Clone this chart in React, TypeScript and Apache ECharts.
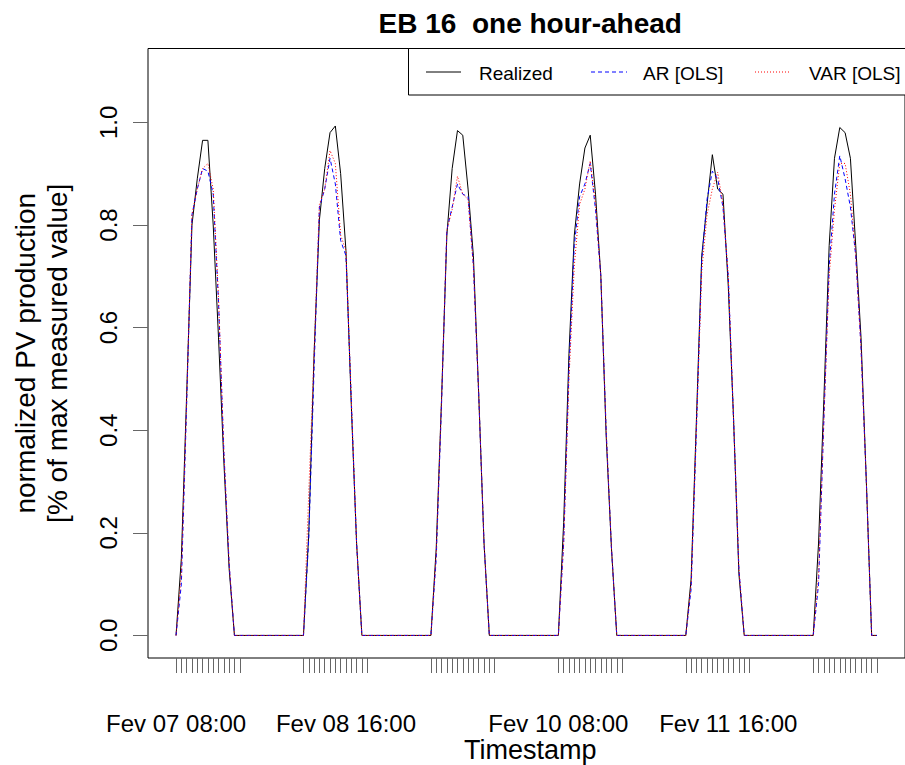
import React, { useEffect, useRef } from "react";
import * as echarts from "echarts";

// Hourly samples (08:00 .. 20:00) for each day of February shown
const DAYS = [7, 8, 9, 10, 11, 12];
const HOURS = [8, 9, 10, 11, 12, 13, 14, 15, 16, 17, 18, 19, 20];

// Normalized PV production, one row per day
const realized = [
  0, 0.15, 0.47, 0.8, 0.89, 0.965, 0.965, 0.8, 0.58, 0.34, 0.13, 0, 0,
  0, 0.2, 0.55, 0.81, 0.91, 0.98, 0.993, 0.9, 0.75, 0.45, 0.18, 0, 0,
  0, 0.17, 0.46, 0.78, 0.91, 0.984, 0.975, 0.87, 0.74, 0.47, 0.18, 0, 0,
  0, 0.22, 0.55, 0.78, 0.88, 0.95, 0.975, 0.86, 0.7, 0.39, 0.17, 0, 0,
  0, 0.11, 0.42, 0.74, 0.84, 0.937, 0.87, 0.86, 0.68, 0.42, 0.12, 0, 0,
  0, 0.18, 0.46, 0.76, 0.93, 0.99, 0.98, 0.93, 0.76, 0.58, 0.3, 0, 0,
];

const arOls = [
  0, 0.1, 0.45, 0.82, 0.87, 0.91, 0.905, 0.86, 0.65, 0.36, 0.14, 0, 0,
  0, 0.19, 0.52, 0.835, 0.87, 0.93, 0.88, 0.77, 0.74, 0.46, 0.18, 0, 0,
  0, 0.15, 0.45, 0.79, 0.835, 0.88, 0.86, 0.855, 0.72, 0.47, 0.18, 0, 0,
  0, 0.18, 0.52, 0.76, 0.855, 0.88, 0.92, 0.83, 0.7, 0.4, 0.17, 0, 0,
  0, 0.09, 0.4, 0.73, 0.85, 0.905, 0.89, 0.835, 0.7, 0.42, 0.13, 0, 0,
  0, 0.1, 0.42, 0.72, 0.86, 0.935, 0.89, 0.835, 0.74, 0.56, 0.3, 0, 0,
];

const varOls = [
  0, 0.12, 0.46, 0.82, 0.87, 0.91, 0.92, 0.87, 0.66, 0.36, 0.14, 0, 0,
  0, 0.28, 0.55, 0.84, 0.87, 0.945, 0.92, 0.78, 0.75, 0.46, 0.18, 0, 0,
  0, 0.16, 0.46, 0.79, 0.83, 0.895, 0.86, 0.85, 0.72, 0.47, 0.18, 0, 0,
  0, 0.18, 0.5, 0.72, 0.84, 0.87, 0.925, 0.84, 0.7, 0.4, 0.17, 0, 0,
  0, 0.1, 0.41, 0.71, 0.82, 0.87, 0.903, 0.84, 0.7, 0.42, 0.13, 0, 0,
  0, 0.12, 0.42, 0.7, 0.83, 0.92, 0.92, 0.86, 0.74, 0.56, 0.3, 0, 0,
];

// Labelled ticks, in hours after Fev 07 08:00
const X_LABEL_HOURS = [0, 32, 72, 104];
const Y_TICKS = [0, 0.2, 0.4, 0.6, 0.8, 1.0];

const FONT = "'Liberation Sans', Arial, Helvetica, sans-serif";

// hours elapsed since the first sample
const times: number[] = [];
DAYS.forEach((d) => HOURS.forEach((h) => times.push((d - DAYS[0]) * 24 + (h - HOURS[0]))));

const pad = (n: number) => (n < 10 ? "0" + n : "" + n);
const fmtTime = (v: number) => {
  const tot = Math.round(v) + HOURS[0];
  const day = DAYS[0] + Math.floor(tot / 24);
  const hr = tot % 24;
  return `Fev ${pad(day)} ${pad(hr)}:00`;
};

const span = times[times.length - 1] - times[0];
const X_MIN = times[0] - 0.04 * span;
const X_MAX = times[times.length - 1] + 0.04 * span;
const Y_MIN = -0.044;
const Y_MAX = 1.144;

const GRID = { left: 148, top: 48.5, width: 764.5, height: 609.5 };

const pairs = (vals: number[]) => vals.map((v, i) => [times[i], v]);

export default function App() {
  const ref = useRef<HTMLDivElement>(null);

  useEffect(() => {
    if (!ref.current) return;
    const chart = echarts.init(ref.current, undefined, { renderer: "svg" });
    const midX = GRID.left + GRID.width / 2;
    const midY = GRID.top + GRID.height / 2;

    chart.setOption({
      animation: false,
      backgroundColor: "#fff",
      textStyle: { fontFamily: FONT },
      grid: {
        ...GRID,
        show: true,
        borderColor: "#000",
        borderWidth: 1,
        backgroundColor: "transparent",
      },
      xAxis: {
        type: "value",
        min: X_MIN,
        max: X_MAX,
        axisLine: { show: false, onZero: false },
        splitLine: { show: false },
        axisTick: {
          show: true,
          length: 15,
          customValues: times,
          lineStyle: { color: "#666", width: 1 },
        },
        axisLabel: {
          customValues: X_LABEL_HOURS,
          formatter: (v: number) => fmtTime(v),
          fontSize: 24,
          color: "#000",
          fontFamily: FONT,
          margin: 53,
        },
      },
      yAxis: {
        type: "value",
        min: Y_MIN,
        max: Y_MAX,
        axisLine: { show: false, onZero: false },
        splitLine: { show: false },
        axisTick: {
          show: true,
          length: 15,
          customValues: Y_TICKS,
          lineStyle: { color: "#666", width: 1 },
        },
        axisLabel: {
          customValues: Y_TICKS,
          formatter: (v: number) => v.toFixed(1),
          rotate: 90,
          fontSize: 24,
          color: "#000",
          fontFamily: FONT,
          margin: 28,
        },
      },
      series: [
        {
          name: "Realized",
          type: "line",
          data: pairs(realized),
          showSymbol: false,
          lineStyle: { color: "#000", width: 1 },
          silent: true,
        },
        {
          name: "AR [OLS]",
          type: "line",
          data: pairs(arOls),
          showSymbol: false,
          lineStyle: { color: "#0000ff", width: 1, type: [4, 3] },
          silent: true,
        },
        {
          name: "VAR [OLS]",
          type: "line",
          data: pairs(varOls),
          showSymbol: false,
          lineStyle: { color: "#ff0000", width: 1, type: [1, 2] },
          silent: true,
        },
      ],
      graphic: [
        {
          type: "text",
          x: midX,
          y: 23.5,
          style: {
            text: "EB 16  one hour-ahead",
            fontSize: 28,
            fontWeight: "bold",
            fontFamily: FONT,
            fill: "#000",
            align: "center",
            verticalAlign: "middle",
          },
        },
        {
          type: "text",
          x: midX,
          y: 749.5,
          style: {
            text: "Timestamp",
            fontSize: 27,
            fontFamily: FONT,
            fill: "#000",
            align: "center",
            verticalAlign: "middle",
          },
        },
        {
          type: "text",
          x: 25,
          y: midY,
          rotation: Math.PI / 2,
          style: {
            text: "normalized PV production",
            fontSize: 28,
            fontFamily: FONT,
            fill: "#000",
            align: "center",
            verticalAlign: "middle",
          },
        },
        {
          type: "text",
          x: 57,
          y: midY,
          rotation: Math.PI / 2,
          style: {
            text: "[% of max measured value]",
            fontSize: 28,
            fontFamily: FONT,
            fill: "#000",
            align: "center",
            verticalAlign: "middle",
          },
        },
        // legend box
        {
          type: "rect",
          shape: { x: 408.5, y: 48.5, width: 520, height: 46.5 },
          style: { fill: "#fff", stroke: "#000", lineWidth: 1 },
          z: 10,
        },
        {
          type: "line",
          shape: { x1: 426, y1: 72, x2: 461, y2: 72 },
          style: { stroke: "#000", lineWidth: 1 },
          z: 11,
        },
        {
          type: "line",
          shape: { x1: 591, y1: 72, x2: 627, y2: 72 },
          style: { stroke: "#0000ff", lineWidth: 1, lineDash: [4, 3] },
          z: 11,
        },
        {
          type: "line",
          shape: { x1: 755, y1: 72, x2: 791, y2: 72 },
          style: { stroke: "#ff0000", lineWidth: 1, lineDash: [1, 2] },
          z: 11,
        },
        {
          type: "text",
          x: 479,
          y: 73.5,
          z: 11,
          style: { text: "Realized", fontSize: 19, fontFamily: FONT, fill: "#000", align: "left", verticalAlign: "middle" },
        },
        {
          type: "text",
          x: 643,
          y: 73.5,
          z: 11,
          style: { text: "AR [OLS]", fontSize: 19, fontFamily: FONT, fill: "#000", align: "left", verticalAlign: "middle" },
        },
        {
          type: "text",
          x: 809,
          y: 73.5,
          z: 11,
          style: { text: "VAR [OLS]", fontSize: 19, fontFamily: FONT, fill: "#000", align: "left", verticalAlign: "middle" },
        },
      ],
    });

    return () => chart.dispose();
  }, []);

  return (
    <div
      ref={ref}
      style={{ position: "fixed", left: 0, top: 0, width: 905, height: 765, background: "#fff" }}
    />
  );
}
